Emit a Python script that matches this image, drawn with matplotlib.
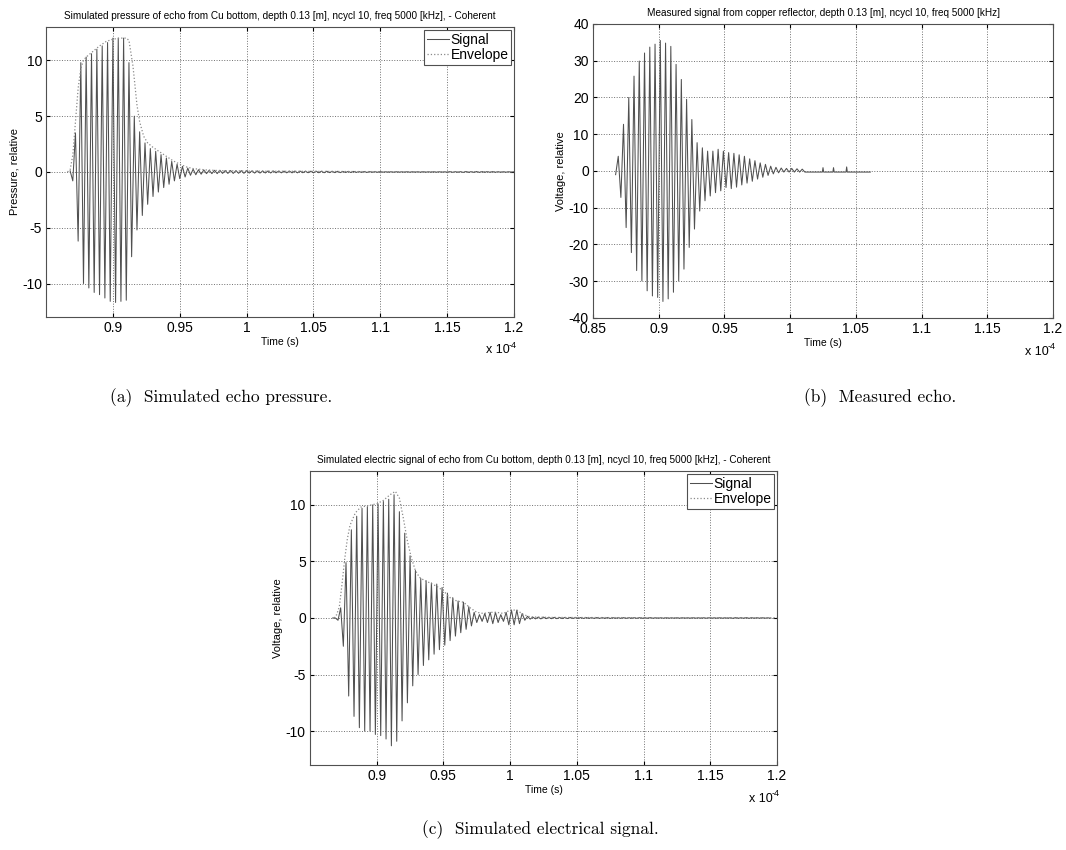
import numpy as np
import matplotlib
matplotlib.use('Agg')
import matplotlib.pyplot as plt

plt.rcParams['font.family'] = ['Liberation Sans', 'DejaVu Sans']
plt.rcParams['axes.unicode_minus'] = False
plt.rcParams['mathtext.default'] = 'regular'

# time unit: 1e-4 s ; peaks are spaced half a period apart
half_per = 0.002

# (a) simulated pressure, alternating peak values
a_t0 = 0.868
a_peaks = [0.1, -0.8, 3.5, -6.2, 9.8, -10.0, 10.3, -10.4, 10.6, -10.8, 11.0, -11.0,
           11.3, -11.3, 11.6, -11.6, 12.0, -11.7, 12.0, -11.6, 12.0, -11.5, 9.8, -7.6,
           5.0, -5.2, 3.6, -3.9, 2.6, -2.9, 2.1, -2.2, 1.85, -1.8, 1.55, -1.4, 1.25, -1.1,
           0.95, -0.8, 0.7, -0.6, 0.5, -0.45, 0.35, -0.3, 0.25, -0.25, 0.2, -0.2, 0.18, -0.15]
# small ripple amplitude, one value per 0.01 block after the main echo
a_tail = [0.15, 0.13, 0.12, 0.1, 0.09, 0.08, 0.08, 0.07, 0.07, 0.06, 0.05, 0.04,
          0.03, 0.02, 0.02, 0.02, 0.02, 0.02, 0.03, 0.04, 0.04, 0.03, 0.02]
a_env_t = [0.866, 0.868, 0.870, 0.872, 0.874, 0.876, 0.878, 0.880, 0.885, 0.890, 0.895,
           0.900, 0.905, 0.910, 0.912, 0.915, 0.918, 0.920, 0.923, 0.926, 0.930, 0.935,
           0.940, 0.945, 0.950, 0.955, 0.960, 0.970, 0.980, 1.000, 1.050, 1.100, 1.200]
a_env = [0.0, 0.2, 1.5, 4.5, 7.5, 9.3, 10.0, 10.3, 10.8, 11.3, 11.7, 11.9, 12.0, 12.0,
         11.8, 9.5, 6.0, 4.5, 3.2, 2.6, 2.2, 1.8, 1.4, 1.0, 0.7, 0.45, 0.3, 0.18, 0.12,
         0.08, 0.05, 0.03, 0.02]

# (b) measured signal
b_t0 = 0.8672
b_peaks = [-1.0, 4.0, -7.2, 12.7, -15.4, 20.0, -22.2, 25.8, -27.1, 29.9, -29.9, 32.1,
           -32.6, 33.7, -34.0, 34.5, -34.4, 35.5, -35.5, 34.8, -34.8, 33.9, -33.0, 29.0,
           -29.9, 24.9, -26.7, 19.5, -20.8, 14.0, -15.8, 7.7, -10.9, 6.3, -8.1, 5.4,
           -6.8, 5.4, -5.9, 5.9, -5.4, 5.4, -4.5, 5.0, -4.8, 4.8, -4.4, 4.4, -3.8, 4.0,
           -3.3, 3.3, -2.8, 2.8, -2.2, 2.2, -1.7, 1.8, -1.2, 1.3, -0.8, 1.0, -0.5, 0.8,
           -0.3, 0.7, -0.3, 0.7, -0.3, 0.6, -0.3, 0.5, -0.3]
b_tail_t = [1.013, 1.0245, 1.025, 1.0255, 1.0325, 1.033, 1.0335, 1.0425, 1.043, 1.0435, 1.061]
b_tail_v = [-0.3, -0.3, 0.9, -0.3, -0.3, 0.9, -0.3, -0.3, 1.1, -0.3, -0.3]

# (c) simulated electric signal
c_t0 = 0.867
c_peaks = [0.0, 0.0, -0.2, 0.9, -2.5, 4.9, -6.9, 7.8, -8.7, 9.0, -9.7, 9.7, -10.0, 9.85,
           -10.0, 10.0, -10.3, 10.1, -10.4, 10.3, -10.7, 10.5, -11.3, 10.9, -10.9, 9.4,
           -9.1, 7.5, -7.5, 5.5, -6.0, 4.2, -5.0, 3.5, -4.2, 3.3, -3.7, 3.1, -3.2, 3.0,
           -2.8, 2.7, -2.4, 2.2, -2.0, 1.8, -1.6, 1.5, -1.3, 1.4, -1.0, 1.0, -0.7, 0.5,
           -0.4, 0.3, -0.3, 0.4, -0.4, 0.5, -0.5, 0.5, -0.4, 0.3, -0.3, 0.5, -0.6, 0.7,
           -0.6, 0.7, -0.5, 0.4, -0.2, 0.15, -0.1]
c_tail = [0.08, 0.06, 0.05, 0.04, 0.04, 0.04, 0.03, 0.03, 0.03, 0.02, 0.02, 0.02,
          0.02, 0.02, 0.02, 0.03, 0.03, 0.02]
c_env_t = [0.868, 0.870, 0.872, 0.874, 0.876, 0.878, 0.880, 0.884, 0.888, 0.892, 0.896,
           0.900, 0.905, 0.910, 0.914, 0.917, 0.920, 0.923, 0.926, 0.929, 0.932, 0.936,
           0.940, 0.945, 0.950, 0.955, 0.960, 0.965, 0.970, 0.975, 0.980, 0.985, 0.990,
           0.995, 1.000, 1.005, 1.010, 1.015, 1.030, 1.100, 1.200]
c_env = [0.0, 0.3, 1.0, 3.0, 5.2, 7.0, 8.2, 9.3, 9.8, 9.9, 10.0, 10.1, 10.4, 10.9, 11.2,
         10.6, 8.8, 6.8, 5.3, 4.2, 3.6, 3.3, 3.1, 2.8, 2.4, 1.8, 1.5, 1.4, 0.9, 0.5, 0.4,
         0.5, 0.5, 0.4, 0.7, 0.7, 0.3, 0.1, 0.05, 0.03, 0.02]

titles = ['Simulated pressure of echo from Cu bottom, depth 0.13 [m], ncycl 10, freq 5000 [kHz], - Coherent',
          'Measured signal from copper reflector, depth 0.13 [m], ncycl 10, freq 5000 [kHz]',
          'Simulated electric signal of echo from Cu bottom, depth 0.13 [m], ncycl 10, freq 5000 [kHz], - Coherent']
ylabels = ['Pressure, relative', 'Voltage, relative', 'Voltage, relative']
captions = ['(a)  Simulated echo pressure.', '(b)  Measured echo.', '(c)  Simulated electrical signal.']


def zigzag(t0, peaks, tail=None):
    vals = list(peaks)
    if tail is not None:
        sgn = -np.sign(vals[-1])
        for amp in tail:
            for i in range(5):
                vals.append(sgn*amp)
                sgn = -sgn
    t = t0 + half_per*np.arange(len(vals))
    return t, np.array(vals)


def style(ax, title, ylabel, xticks, yticks, ylim):
    ax.set_xlim(0.85, 1.2)
    ax.set_ylim(*ylim)
    ax.set_xticks(xticks)
    ax.set_xticklabels(['%g' % v for v in xticks])
    ax.set_yticks(yticks)
    ax.grid(True, linestyle=':', color='#707070', linewidth=0.7)
    ax.tick_params(direction='in', top=True, right=True, length=3, labelsize=10, pad=3)
    for s in ax.spines.values():
        s.set_color('#505050')
        s.set_linewidth(0.8)
    ax.set_title(title, fontsize=7.2, pad=6)
    ax.set_ylabel(ylabel, fontsize=8, labelpad=2)
    ax.set_xlabel('Time (s)', fontsize=7.5, labelpad=1)
    # MATLAB style exponent under the right end of the x axis
    ax.text(0.965, -0.115, 'x 10', transform=ax.transAxes, fontsize=9,
            ha='center', va='center')
    ax.text(0.997, -0.098, '-4', transform=ax.transAxes, fontsize=6.5,
            ha='center', va='center')


fig = plt.figure(figsize=(10.66, 8.5), dpi=100)
ax1 = fig.add_axes([0.0432, 0.6271, 0.4390, 0.3412])
ax2 = fig.add_axes([0.5563, 0.6259, 0.4315, 0.3459])
ax3 = fig.add_axes([0.2908, 0.1000, 0.4381, 0.3459])

sig_col = '#505050'
env_col = '#8a8a8a'
xt = [0.9, 0.95, 1.0, 1.05, 1.1, 1.15, 1.2]

t, y = zigzag(a_t0, a_peaks, a_tail)
ax1.plot(t, y, color=sig_col, lw=0.75, label='Signal')
ax1.plot(a_env_t, a_env, color=env_col, lw=0.9, ls=':', label='Envelope')
style(ax1, titles[0], ylabels[0], xt, [-10, -5, 0, 5, 10], (-13, 13))

t, y = zigzag(b_t0, b_peaks)
ax2.plot(np.concatenate([t, b_tail_t]), np.concatenate([y, b_tail_v]), color=sig_col, lw=0.75)
style(ax2, titles[1], ylabels[1], [0.85] + xt, np.arange(-40, 41, 10), (-40, 40))

t, y = zigzag(c_t0, c_peaks, c_tail)
ax3.plot(t, y, color=sig_col, lw=0.75, label='Signal')
ax3.plot(c_env_t, c_env, color=env_col, lw=0.9, ls=':', label='Envelope')
style(ax3, titles[2], ylabels[2], xt, [-10, -5, 0, 5, 10], (-13, 13))

for ax in (ax1, ax3):
    leg = ax.legend(loc='upper right', fontsize=10, fancybox=False, framealpha=1,
                    edgecolor='#505050', borderaxespad=0.2, handlelength=1.6,
                    handletextpad=0.1, borderpad=0.2, labelspacing=0.1)
    leg.get_frame().set_linewidth(0.8)

cap_pos = [(0.207, 0.532), (0.826, 0.532), (0.507, 0.024)]
for (x, yy), cap in zip(cap_pos, captions):
    fig.text(x, yy, cap, family='cmr10', fontsize=12.5, ha='center', va='center')

fig.savefig('out.png', dpi=100)
